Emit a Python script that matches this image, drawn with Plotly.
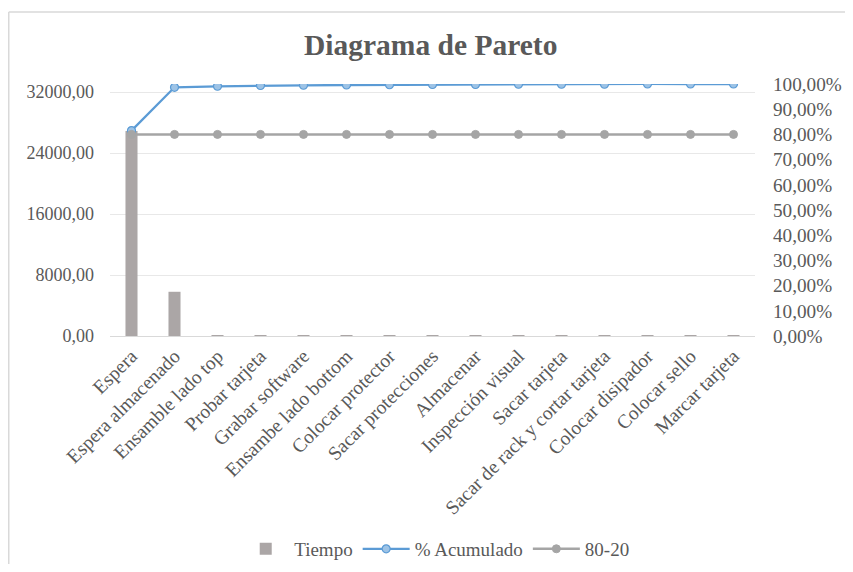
import plotly.graph_objects as go

categorias = ["Espera", "Espera almacenado", "Ensamble lado top", "Probar tarjeta",
              "Grabar software", "Ensambe lado bottom", "Colocar protector",
              "Sacar protecciones", "Almacenar", "Inspección visual", "Sacar tarjeta",
              "Sacar de rack y cortar tarjeta", "Colocar disipador", "Colocar sello",
              "Marcar tarjeta"]
tiempo = [26900, 5800, 110, 80, 60, 50, 45, 40, 35, 30, 25, 20, 15, 12, 8]
acumulado = [0.815, 0.987, 0.991, 0.994, 0.995, 0.996, 0.997, 0.998, 0.998,
             0.999, 0.999, 0.999, 1.0, 1.0, 1.0]
linea_80_20 = [0.8] * 15

left_ticks = [0, 8000, 16000, 24000, 32000]
right_ticks = [0, 0.1, 0.2, 0.3, 0.4, 0.5, 0.6, 0.7, 0.8, 0.9, 1.0]

FONT = "Liberation Serif, Times New Roman, serif"
TXT = "#595959"

fig = go.Figure()
fig.add_trace(go.Bar(x=categorias, y=tiempo, name="Tiempo", width=0.28,
                     marker=dict(color="#ABA6A6", line=dict(width=0))))
fig.add_trace(go.Scatter(x=categorias, y=acumulado, name="% Acumulado", yaxis="y2",
                         mode="lines+markers",
                         line=dict(color="#5B9BD5", width=2.25),
                         marker=dict(size=8, color="#9DC3E6",
                                     line=dict(color="#5B9BD5", width=1.2))))
fig.add_trace(go.Scatter(x=categorias, y=linea_80_20, name="80-20", yaxis="y2",
                         mode="lines+markers",
                         line=dict(color="#A5A5A5", width=2.5),
                         marker=dict(size=8, color="#A5A5A5",
                                     line=dict(color="#A5A5A5", width=1))))

fig.update_layout(
    width=837, height=556,
    margin=dict(l=102, r=90, t=76, b=228, autoexpand=False),
    paper_bgcolor="white", plot_bgcolor="white",
    separators=", ",
    font=dict(family=FONT, size=18, color=TXT),
    title=dict(text="<b>Diagrama de Pareto</b>", x=0.505, xanchor="center",
               y=1 - 37 / 556, yanchor="middle",
               font=dict(family=FONT, size=29.5, color=TXT)),
    showlegend=True,
    legend=dict(orientation="h", x=0.505, xanchor="center", y=-0.845, yanchor="middle",
                font=dict(family=FONT, size=19, color=TXT), traceorder="normal",
                itemwidth=47),
    xaxis=dict(tickangle=-45, showgrid=False, showline=False, ticks="",
               range=[-0.5, 14.5], autorange=False, ticklabelstandoff=4,
               tickfont=dict(family=FONT, size=19.5, color=TXT), zeroline=False),
    yaxis=dict(range=[0, 33050], tickvals=left_ticks, tickformat=".2f",
               showgrid=True, gridcolor="#E8E8E8", gridwidth=1,
               zeroline=True, zerolinecolor="#D9D9D9", zerolinewidth=1,
               showline=False, ticks="", ticklabelstandoff=15,
               tickfont=dict(family=FONT, size=18, color=TXT)),
    yaxis2=dict(range=[0, 1], tickvals=right_ticks, tickformat=".2%",
                overlaying="y", side="right", showgrid=False, zeroline=False,
                showline=False, ticks="", ticklabelstandoff=17,
                tickfont=dict(family=FONT, size=19.2, color=TXT)),
    shapes=[
        dict(type="line", xref="paper", yref="paper", x0=-0.157, x1=1.14,
             y0=1.2857, y1=1.2857, line=dict(color="#D9D9D9", width=1.5)),
        dict(type="line", xref="paper", yref="paper", x0=-0.157, x1=-0.157,
             y0=1.2857, y1=-0.905, line=dict(color="#D9D9D9", width=1.5)),
    ],
)

fig.write_html("out.html")
